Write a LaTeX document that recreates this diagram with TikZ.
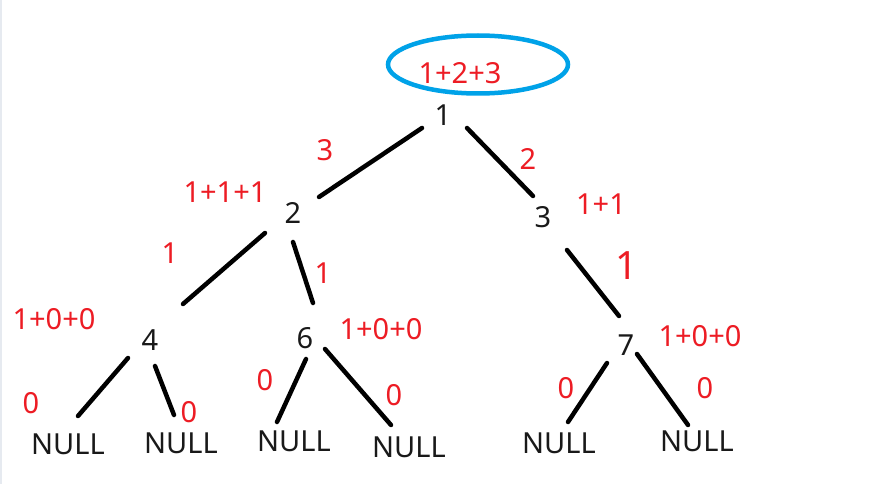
\documentclass[tikz,border=0pt]{standalone}
\usepackage{fontspec}
\setmainfont{Noto Sans}
\definecolor{pred}{HTML}{ED1C24}
\definecolor{pblue}{HTML}{00A2E8}
\definecolor{pedge}{HTML}{E6EAF0}
\begin{document}
\begin{tikzpicture}[x=1pt,y=-1pt,
  lbl/.style={inner sep=0pt,font=\fontsize{29}{34}\selectfont,text=black!90},
  rlbl/.style={inner sep=0pt,font=\fontsize{29}{34}\selectfont,text=pred},
  edge/.style={line width=4.5pt,line cap=round,black}]
\useasboundingbox (0,0) rectangle (879,484);
\fill[white] (0,0) rectangle (879,484);
\fill[pedge] (0,0) rectangle (2,484);
% tree nodes
\node[lbl] (n1) at (443,115) {1};
\node[lbl] (n2) at (293,213) {2};
\node[lbl] (n3) at (543,217) {3};
\node[lbl] (n4) at (150,340) {4};
\node[lbl] (n6) at (305,338) {6};
\node[lbl] (n7) at (626,345) {7};
\node[lbl] (z1) at (68,444) {NULL};
\node[lbl] (z2) at (181,443) {NULL};
\node[lbl] (z3) at (294,441) {NULL};
\node[lbl] (z4) at (409,447) {NULL};
\node[lbl] (z5) at (559,443) {NULL};
\node[lbl] (z6) at (697,441) {NULL};
% red annotations
\node[rlbl] (r123) at (460,73) {1+2+3};
\draw[pblue,line width=4.5pt] (478,64.5) ellipse [x radius=90, y radius=29];
\node[rlbl] (ra) at (325,150) {3};
\node[rlbl] (rb) at (528,159) {2};
\node[rlbl] (rc) at (225,192) {1+1+1};
\node[rlbl] (rd) at (601,204) {1+1};
\node[rlbl] (re) at (170,253) {1};
\node[rlbl] (rf) at (323,273) {1};
\node[rlbl,font=\fontsize{39}{44}\selectfont] (rg) at (627,266) {1};
\node[rlbl] (rh) at (54,319) {1+0+0};
\node[rlbl] (ri) at (381,329) {1+0+0};
\node[rlbl] (rj) at (700,336) {1+0+0};
\node[rlbl] (rk) at (31,403) {0};
\node[rlbl] (rl) at (189,412) {0};
\node[rlbl] (rm) at (265,380) {0};
\node[rlbl] (rn) at (394,395) {0};
\node[rlbl] (ro) at (566,388) {0};
\node[rlbl] (rp) at (705,388) {0};
% connectors
\draw[edge] ([shift={(-21,13)}]n1.center) -- ([shift={(26,-16)}]n2.center);
\draw[edge] ([shift={(24,13)}]n1.center) -- ([shift={(-10,-21)}]n3.center);
\draw[edge] ([shift={(-28,20)}]n2.center) -- ([shift={(33,-36)}]n4.center);
\draw[edge] ([shift={(0,29)}]n2.center) -- ([shift={(8,-35)}]n6.center);
\draw[edge] ([shift={(24,33)}]n3.center) -- ([shift={(-7,-29)}]n7.center);
\draw[edge] ([shift={(-22,18)}]n4.center) -- ([shift={(10,-28)}]z1.center);
\draw[edge] ([shift={(5,26)}]n4.center) -- ([shift={(-7,-28)}]z2.center);
\draw[edge] ([shift={(1,21)}]n6.center) -- ([shift={(-17,-19)}]z3.center);
\draw[edge] ([shift={(20,11)}]n6.center) -- ([shift={(-18,-22)}]z4.center);
\draw[edge] ([shift={(-19,18)}]n7.center) -- ([shift={(9,-21)}]z5.center);
\draw[edge] ([shift={(11,9)}]n7.center) -- ([shift={(-9,-16)}]z6.center);
\end{tikzpicture}
\end{document}
